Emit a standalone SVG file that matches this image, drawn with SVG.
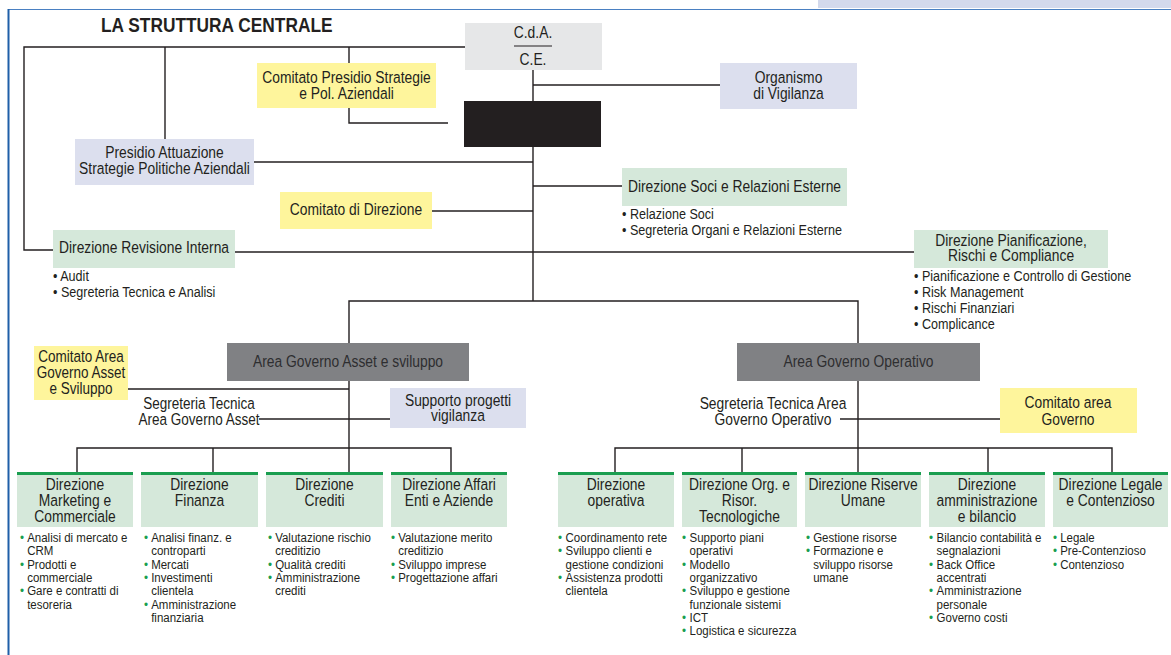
<svg xmlns="http://www.w3.org/2000/svg" width="1171" height="655" viewBox="0 0 1171 655">
<style>
text{font-family:"Liberation Sans",Arial,sans-serif;fill:#231f20}
.t{font-size:16.5px}
.c{text-anchor:middle}
.mb{font-size:15px}
.bb{font-size:13.7px}
.title{font-size:21px;font-weight:bold}
.yel{fill:#fef59c}
.lav{fill:#dcdfee}
.grn{fill:#d5e8da}
.gry{fill:#e6e7e8}
.dk{fill:#808184}
.gt{fill:#1a9e50}
.bul{fill:#1a9e50}
.ak{fill:#2e2e30}
.conn path{fill:none;stroke:#231f20;stroke-width:1.4}
</style>
<rect x="0" y="0" width="1171" height="655" fill="#ffffff"/>
<rect x="818" y="0" width="353" height="8" fill="#d3d9ec"/>
<path d="M8 9.5 H1171" stroke="#4a80c2" stroke-width="1.2" fill="none"/>
<path d="M8.5 9 V655" stroke="#1f5fa8" stroke-width="2" fill="none"/>
<text class="title" transform="matrix(.825 0 0 1 101 32)">LA STRUTTURA CENTRALE</text>

<g class="conn" id="connectors">
<path d="M53 250 H24 V47 H465"/>
<path d="M165 47 V139"/>
<path d="M349 47 V123 H448"/>
<path d="M533 70 V101"/>
<path d="M533 147 V301"/>
<path d="M533 85 H720"/>
<path d="M254 162 H533"/>
<path d="M533 186 H622"/>
<path d="M432 211 H533"/>
<path d="M235 252 H914"/>
<path d="M349 343 V301 H858 V343"/>
<path d="M349 381 V448"/>
<path d="M858 381 V448"/>
<path d="M128 389 H349"/>
<path d="M259 419 H390"/>
<path d="M840 419 H1000"/>
<path d="M77 472 V448 H451 V472"/>
<path d="M213 448 V472"/>
<path d="M349 448 V472"/>
<path d="M615 472 V448 H1112 V472"/>
<path d="M742 448 V472"/>
<path d="M858 448 V472"/>
<path d="M988 448 V472"/>
</g>

<g id="cda">
<rect class="gry" x="465" y="23" width="137" height="47"/>
<text class="t c" transform="matrix(.84 0 0 1 533 38)">C.d.A.</text>
<path d="M514 46 H552" stroke="#231f20" stroke-width="1.2"/>
<text class="t c" transform="matrix(.84 0 0 1 533 65)">C.E.</text>
</g>

<g id="black-box">
<rect x="464" y="101" width="137" height="46" fill="#231f20"/>
</g>

<g id="comitato-presidio">
<rect class="yel" x="257" y="63" width="179" height="45"/>
<text class="t c" transform="matrix(.84 0 0 1 346.5 83)">Comitato Presidio Strategie</text>
<text class="t c" transform="matrix(.84 0 0 1 346.5 99)">e Pol. Aziendali</text>
</g>

<g id="organismo">
<rect class="lav" x="720" y="63" width="137" height="46"/>
<text class="t c" transform="matrix(.84 0 0 1 788.5 83)">Organismo</text>
<text class="t c" transform="matrix(.84 0 0 1 788.5 99)">di Vigilanza</text>
</g>

<g id="presidio-attuazione">
<rect class="lav" x="75" y="139" width="179" height="46"/>
<text class="t c" transform="matrix(.84 0 0 1 164.5 158)">Presidio Attuazione</text>
<text class="t c" transform="matrix(.84 0 0 1 164.5 174)">Strategie Politiche Aziendali</text>
</g>

<g id="direzione-soci">
<rect class="grn" x="622" y="168" width="225" height="38"/>
<text class="t c" transform="matrix(.84 0 0 1 734.5 191.5)">Direzione Soci e Relazioni Esterne</text>
<text class="mb" transform="matrix(.84 0 0 1 622 219)">• Relazione Soci</text>
<text class="mb" transform="matrix(.84 0 0 1 622 235)">• Segreteria Organi e Relazioni Esterne</text>
</g>

<g id="comitato-direzione">
<rect class="yel" x="280" y="192" width="152" height="37"/>
<text class="t c" transform="matrix(.84 0 0 1 356 215)">Comitato di Direzione</text>
</g>

<g id="revisione-interna">
<rect class="grn" x="53" y="230" width="182" height="38"/>
<text class="t c" transform="matrix(.84 0 0 1 144 253)">Direzione Revisione Interna</text>
<text class="mb" transform="matrix(.84 0 0 1 53 281)">• Audit</text>
<text class="mb" transform="matrix(.84 0 0 1 53 297)">• Segreteria Tecnica e Analisi</text>
</g>

<g id="pianificazione">
<rect class="grn" x="914" y="230" width="194" height="38"/>
<text class="t c" transform="matrix(.84 0 0 1 1011 246)">Direzione Pianificazione,</text>
<text class="t c" transform="matrix(.84 0 0 1 1011 261)">Rischi e Compliance</text>
<text class="mb" transform="matrix(.84 0 0 1 914 281)">• Pianificazione e Controllo di Gestione</text>
<text class="mb" transform="matrix(.84 0 0 1 914 297)">• Risk Management</text>
<text class="mb" transform="matrix(.84 0 0 1 914 313)">• Rischi Finanziari</text>
<text class="mb" transform="matrix(.84 0 0 1 914 329)">• Complicance</text>
</g>

<g id="area-asset">
<rect class="dk" x="227" y="343" width="242" height="38"/>
<text class="t c ak" transform="matrix(.84 0 0 1 348 367)">Area Governo Asset e sviluppo</text>
</g>

<g id="area-operativo">
<rect class="dk" x="737" y="343" width="243" height="38"/>
<text class="t c ak" transform="matrix(.84 0 0 1 858.5 367)">Area Governo Operativo</text>
</g>

<g id="comitato-area-asset">
<rect class="yel" x="34" y="346" width="94" height="54"/>
<text class="t c" transform="matrix(.82 0 0 1 81 362)">Comitato Area</text>
<text class="t c" transform="matrix(.82 0 0 1 81 378)">Governo Asset</text>
<text class="t c" transform="matrix(.82 0 0 1 81 394)">e Sviluppo</text>
</g>

<g id="segreteria-asset">
<text class="t c" transform="matrix(.82 0 0 1 199 409)">Segreteria Tecnica</text>
<text class="t c" transform="matrix(.82 0 0 1 199 424.5)">Area Governo Asset</text>
</g>

<g id="supporto-vigilanza">
<rect class="lav" x="390" y="388" width="136" height="40"/>
<text class="t c" transform="matrix(.84 0 0 1 458 405.5)">Supporto progetti</text>
<text class="t c" transform="matrix(.84 0 0 1 458 420.5)">vigilanza</text>
</g>

<g id="segreteria-operativo">
<text class="t c" transform="matrix(.84 0 0 1 773 409)">Segreteria Tecnica Area</text>
<text class="t c" transform="matrix(.84 0 0 1 773 424.5)">Governo Operativo</text>
</g>

<g id="comitato-area-governo">
<rect class="yel" x="1000" y="388" width="137" height="45"/>
<text class="t c" transform="matrix(.84 0 0 1 1068 408)">Comitato area</text>
<text class="t c" transform="matrix(.84 0 0 1 1068 424.5)">Governo</text>
</g>

<g id="dir-marketing">
<rect class="grn" x="17" y="472" width="116" height="55"/>
<rect class="gt" x="17" y="472" width="116" height="3"/>
<text class="t c" transform="matrix(.84 0 0 1 75 490)">Direzione</text>
<text class="t c" transform="matrix(.84 0 0 1 75 506)">Marketing e</text>
<text class="t c" transform="matrix(.84 0 0 1 75 522)">Commerciale</text>
<text class="bb" transform="matrix(.84 0 0 1 20 0)"><tspan class="bul" x="0" y="542">•</tspan><tspan x="8.5" y="542">Analisi di mercato e</tspan><tspan x="8.5" y="555.3">CRM</tspan><tspan class="bul" x="0" y="568.6">•</tspan><tspan x="8.5" y="568.6">Prodotti e</tspan><tspan x="8.5" y="582">commerciale</tspan><tspan class="bul" x="0" y="595.3">•</tspan><tspan x="8.5" y="595.3">Gare e contratti di</tspan><tspan x="8.5" y="608.6">tesoreria</tspan></text>
</g>

<g id="dir-finanza">
<rect class="grn" x="141" y="472" width="117" height="55"/>
<rect class="gt" x="141" y="472" width="117" height="3"/>
<text class="t c" transform="matrix(.84 0 0 1 199.5 490)">Direzione</text>
<text class="t c" transform="matrix(.84 0 0 1 199.5 506)">Finanza</text>
<text class="bb" transform="matrix(.84 0 0 1 144 0)"><tspan class="bul" x="0" y="542">•</tspan><tspan x="8.5" y="542">Analisi finanz. e</tspan><tspan x="8.5" y="555.3">controparti</tspan><tspan class="bul" x="0" y="568.6">•</tspan><tspan x="8.5" y="568.6">Mercati</tspan><tspan class="bul" x="0" y="582">•</tspan><tspan x="8.5" y="582">Investimenti</tspan><tspan x="8.5" y="595.3">clientela</tspan><tspan class="bul" x="0" y="608.6">•</tspan><tspan x="8.5" y="608.6">Amministrazione</tspan><tspan x="8.5" y="622">finanziaria</tspan></text>
</g>

<g id="dir-crediti">
<rect class="grn" x="266" y="472" width="117" height="55"/>
<rect class="gt" x="266" y="472" width="117" height="3"/>
<text class="t c" transform="matrix(.84 0 0 1 324.5 490)">Direzione</text>
<text class="t c" transform="matrix(.84 0 0 1 324.5 506)">Crediti</text>
<text class="bb" transform="matrix(.84 0 0 1 268 0)"><tspan class="bul" x="0" y="542">•</tspan><tspan x="8.5" y="542">Valutazione rischio</tspan><tspan x="8.5" y="555.3">creditizio</tspan><tspan class="bul" x="0" y="568.6">•</tspan><tspan x="8.5" y="568.6">Qualità crediti</tspan><tspan class="bul" x="0" y="582">•</tspan><tspan x="8.5" y="582">Amministrazione</tspan><tspan x="8.5" y="595.3">crediti</tspan></text>
</g>

<g id="dir-affari">
<rect class="grn" x="391" y="472" width="116" height="55"/>
<rect class="gt" x="391" y="472" width="116" height="3"/>
<text class="t c" transform="matrix(.84 0 0 1 449 490)">Direzione Affari</text>
<text class="t c" transform="matrix(.84 0 0 1 449 506)">Enti e Aziende</text>
<text class="bb" transform="matrix(.84 0 0 1 391 0)"><tspan class="bul" x="0" y="542">•</tspan><tspan x="8.5" y="542">Valutazione merito</tspan><tspan x="8.5" y="555.3">creditizio</tspan><tspan class="bul" x="0" y="568.6">•</tspan><tspan x="8.5" y="568.6">Sviluppo imprese</tspan><tspan class="bul" x="0" y="582">•</tspan><tspan x="8.5" y="582">Progettazione affari</tspan></text>
</g>

<g id="dir-operativa">
<rect class="grn" x="558" y="472" width="116" height="55"/>
<rect class="gt" x="558" y="472" width="116" height="3"/>
<text class="t c" transform="matrix(.84 0 0 1 616 490)">Direzione</text>
<text class="t c" transform="matrix(.84 0 0 1 616 506)">operativa</text>
<text class="bb" transform="matrix(.84 0 0 1 558 0)"><tspan class="bul" x="0" y="542">•</tspan><tspan x="9" y="542">Coordinamento rete</tspan><tspan class="bul" x="0" y="555.3">•</tspan><tspan x="9" y="555.3">Sviluppo clienti e</tspan><tspan x="9" y="568.6">gestione condizioni</tspan><tspan class="bul" x="0" y="582">•</tspan><tspan x="9" y="582">Assistenza prodotti</tspan><tspan x="9" y="595.3">clientela</tspan></text>
</g>

<g id="dir-org">
<rect class="grn" x="682" y="472" width="115" height="55"/>
<rect class="gt" x="682" y="472" width="115" height="3"/>
<text class="t c" transform="matrix(.84 0 0 1 739.5 490)">Direzione Org. e</text>
<text class="t c" transform="matrix(.84 0 0 1 739.5 506)">Risor.</text>
<text class="t c" transform="matrix(.84 0 0 1 739.5 522)">Tecnologiche</text>
<text class="bb" transform="matrix(.84 0 0 1 682 0)"><tspan class="bul" x="0" y="542">•</tspan><tspan x="9" y="542">Supporto piani</tspan><tspan x="9" y="555.3">operativi</tspan><tspan class="bul" x="0" y="568.6">•</tspan><tspan x="9" y="568.6">Modello</tspan><tspan x="9" y="582">organizzativo</tspan><tspan class="bul" x="0" y="595.3">•</tspan><tspan x="9" y="595.3">Sviluppo e gestione</tspan><tspan x="9" y="608.6">funzionale sistemi</tspan><tspan class="bul" x="0" y="622">•</tspan><tspan x="9" y="622">ICT</tspan><tspan class="bul" x="0" y="635.3">•</tspan><tspan x="9" y="635.3">Logistica e sicurezza</tspan></text>
</g>

<g id="dir-riserve">
<rect class="grn" x="805" y="472" width="116" height="55"/>
<rect class="gt" x="805" y="472" width="116" height="3"/>
<text class="t c" transform="matrix(.84 0 0 1 863 490)">Direzione Riserve</text>
<text class="t c" transform="matrix(.84 0 0 1 863 506)">Umane</text>
<text class="bb" transform="matrix(.84 0 0 1 806 0)"><tspan class="bul" x="0" y="542">•</tspan><tspan x="8.5" y="542">Gestione risorse</tspan><tspan class="bul" x="0" y="555.3">•</tspan><tspan x="8.5" y="555.3">Formazione e</tspan><tspan x="8.5" y="568.6">sviluppo risorse</tspan><tspan x="8.5" y="582">umane</tspan></text>
</g>

<g id="dir-amministrazione">
<rect class="grn" x="929" y="472" width="116" height="55"/>
<rect class="gt" x="929" y="472" width="116" height="3"/>
<text class="t c" transform="matrix(.84 0 0 1 987 490)">Direzione</text>
<text class="t c" transform="matrix(.84 0 0 1 987 506)">amministrazione</text>
<text class="t c" transform="matrix(.84 0 0 1 987 522)">e bilancio</text>
<text class="bb" transform="matrix(.84 0 0 1 929 0)"><tspan class="bul" x="0" y="542">•</tspan><tspan x="9" y="542">Bilancio contabilità e</tspan><tspan x="9" y="555.3">segnalazioni</tspan><tspan class="bul" x="0" y="568.6">•</tspan><tspan x="9" y="568.6">Back Office</tspan><tspan x="9" y="582">accentrati</tspan><tspan class="bul" x="0" y="595.3">•</tspan><tspan x="9" y="595.3">Amministrazione</tspan><tspan x="9" y="608.6">personale</tspan><tspan class="bul" x="0" y="622">•</tspan><tspan x="9" y="622">Governo costi</tspan></text>
</g>

<g id="dir-legale">
<rect class="grn" x="1053" y="472" width="115" height="55"/>
<rect class="gt" x="1053" y="472" width="115" height="3"/>
<text class="t c" transform="matrix(.84 0 0 1 1110.5 490)">Direzione Legale</text>
<text class="t c" transform="matrix(.84 0 0 1 1110.5 506)">e Contenzioso</text>
<text class="bb" transform="matrix(.84 0 0 1 1053 0)"><tspan class="bul" x="0" y="542">•</tspan><tspan x="8.5" y="542">Legale</tspan><tspan class="bul" x="0" y="555.3">•</tspan><tspan x="8.5" y="555.3">Pre-Contenzioso</tspan><tspan class="bul" x="0" y="568.6">•</tspan><tspan x="8.5" y="568.6">Contenzioso</tspan></text>
</g>
</svg>
